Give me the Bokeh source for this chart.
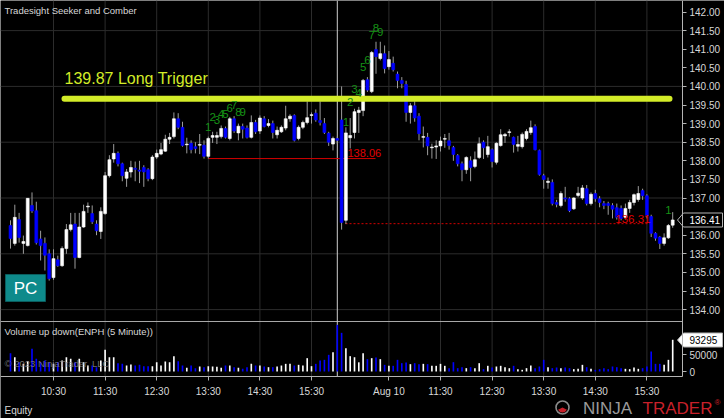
import numpy as np
from bokeh.plotting import figure
from bokeh.models import Range1d, FixedTicker, NumeralTickFormatter, Label, ColumnDataSource
from bokeh.core.properties import value
from bokeh.embed import file_html
from bokeh.resources import INLINE

# ---------------- data ----------------
# Day 1 (Aug 9), 5-minute bars 9:40 .. 16:00
d1_open = [136.26,135.78,136.42,135.78,135.72,136.80,136.66,135.90,135.78,135.50,
           134.86,135.34,135.18,135.64,136.15,136.30,135.40,136.22,136.76,136.58,
           136.30,136.10,136.58,137.60,138.05,138.20,137.92,137.53,137.70,137.80,
           137.75,137.82,137.76,137.52,138.10,138.18,138.26,138.58,138.65,139.13,
           138.90,138.43,138.47,138.38,138.42,138.42,138.12,138.63,138.63,138.65,
           138.87,138.60,139.13,138.75,138.92,138.88,138.63,139.03,138.80,139.13,
           138.95,139.00,138.70,138.78,138.88,139.13,139.22,138.60,138.90,139.03,
           139.22,139.28,139.08,139.00,138.74,138.45,138.60]
d1_high = [136.40,136.82,136.60,135.99,137.00,137.15,136.90,136.12,135.94,135.62,
           135.62,135.45,135.70,136.30,136.60,136.60,136.60,136.82,136.88,136.80,
           136.40,136.75,137.70,138.15,138.45,138.25,137.95,137.78,138.00,137.98,
           138.00,137.88,137.80,138.15,138.30,138.48,138.70,138.75,139.30,139.28,
           139.05,138.62,138.55,138.50,138.72,138.55,138.65,138.78,138.78,138.95,
           138.92,139.18,139.20,139.00,139.00,138.95,139.22,139.10,139.22,139.20,
           139.12,139.08,138.92,138.95,139.48,139.25,139.25,138.95,139.08,139.60,
           139.30,139.38,139.60,139.15,138.78,138.65,138.65]
d1_low = [135.64,135.72,135.80,135.50,135.70,136.60,135.75,135.32,135.05,134.78,
          134.80,135.15,135.15,135.50,136.10,135.10,135.38,136.20,136.60,136.30,
          136.00,135.90,136.55,137.55,137.95,137.85,137.45,137.30,137.55,137.45,
          137.40,137.30,137.45,137.48,138.05,138.15,138.24,138.45,138.60,138.85,
          138.38,138.20,138.20,138.20,138.18,138.06,138.06,138.48,138.45,138.60,
          138.60,138.55,138.75,138.55,138.60,138.60,138.60,138.72,138.72,138.90,
          138.90,138.60,138.60,138.75,138.82,139.05,138.52,138.55,138.85,138.98,
          139.00,139.05,138.95,138.72,138.40,138.28,138.45]
d1_close = [135.91,136.48,135.94,135.83,136.99,136.65,135.80,135.72,135.46,134.83,
            135.37,135.18,135.64,136.15,136.28,135.40,136.22,136.64,136.78,136.36,
            136.12,136.64,137.60,138.03,138.20,137.92,137.60,137.70,137.82,137.77,
            137.72,137.70,137.52,138.10,138.20,138.30,138.58,138.63,139.13,138.90,
            138.41,138.45,138.30,138.33,138.44,138.12,138.60,138.68,138.68,138.87,
            138.63,139.13,138.80,138.93,138.85,138.63,139.03,138.78,139.15,138.92,
            139.00,138.76,138.82,138.90,139.13,139.20,138.55,138.90,139.03,139.16,
            139.24,139.10,139.03,138.76,138.50,138.60,138.55]
d1_volume = [53900,42100,27400,22500,30000,66600,37200,27400,32300,27400,
             22500,27400,32300,42100,37200,27400,37200,27400,17600,17600,
             12700,32300,63700,42100,42100,24500,22500,17600,20600,17600,
             19600,15700,15700,15700,27400,17600,29400,27400,45100,30400,
             17600,10800,17600,9800,14700,12700,15700,14700,13700,10800,
             17600,17600,12700,10800,7800,12700,22500,17600,17600,14700,
             12700,12700,14700,17600,22500,22500,17600,19600,17600,39200,
             15700,22500,32300,34300,49000,56800,137200]

# Day 2 (Aug 10), 5-minute bars 9:35 .. 16:00
d2_open = [139.10,136.40,138.62,138.76,139.30,139.35,140.18,139.86,140.99,140.75,
           140.88,140.53,140.62,140.33,140.16,140.05,139.30,139.48,139.20,138.63,
           138.63,138.35,138.37,138.40,138.58,138.54,138.36,138.14,137.92,137.76,
           138.00,137.85,138.09,138.50,138.17,138.30,137.96,138.41,138.67,138.76,
           138.63,138.39,138.38,138.60,138.76,138.92,138.28,137.60,137.42,137.42,
           136.88,136.80,137.00,136.98,136.71,137.07,137.00,137.25,136.85,137.12,
           136.98,136.85,136.85,136.80,136.74,136.72,136.48,136.72,136.88,136.96,
           137.20,137.06,136.50,136.05,135.95,135.78,135.93,136.27]
d2_high = [140.00,138.90,139.15,139.40,139.45,140.20,140.25,140.95,141.20,141.20,
           141.10,140.95,140.80,140.40,140.25,140.15,139.55,139.60,139.28,138.92,
           138.75,138.46,138.55,138.65,138.72,138.75,138.40,138.18,137.98,138.12,
           138.12,138.25,138.63,138.55,138.67,138.33,138.50,138.85,138.75,138.85,
           138.65,138.67,138.76,138.85,139.08,138.98,138.30,137.65,137.55,137.50,
           136.95,137.18,137.30,137.02,137.02,137.30,137.35,137.35,137.15,137.22,
           137.05,136.92,136.90,136.86,136.85,136.80,136.85,136.95,137.12,137.32,
           137.25,137.10,136.55,136.08,135.98,136.05,136.30,136.62]
d2_low = [136.15,136.30,138.33,138.60,138.75,139.20,139.85,139.82,140.34,140.70,
          140.35,140.45,140.40,139.95,139.95,139.05,139.00,139.05,138.55,138.36,
          138.15,138.06,138.05,138.25,138.35,138.30,138.00,137.85,137.45,137.65,
          137.45,137.80,138.05,138.05,138.09,137.82,137.90,138.38,138.48,138.65,
          138.22,138.25,138.33,138.55,138.70,138.28,137.60,137.25,137.25,136.80,
          136.75,136.75,136.90,136.62,136.68,137.02,136.95,136.80,136.80,136.90,
          136.75,136.70,136.55,136.45,136.42,136.40,136.42,136.60,136.80,136.90,
          136.95,136.45,135.95,135.85,135.63,135.72,135.90,136.20]
d2_close = [136.34,138.75,138.68,139.32,139.36,140.16,139.90,140.91,140.80,140.88,
            140.48,140.72,140.45,140.16,140.08,139.30,139.48,139.15,138.73,138.65,
            138.40,138.37,138.40,138.53,138.60,138.41,138.17,137.92,137.76,138.09,
            137.82,138.03,138.46,138.35,138.38,137.98,138.47,138.70,138.71,138.78,
            138.44,138.44,138.71,138.79,138.89,138.30,137.63,137.50,137.45,136.85,
            136.83,137.12,136.97,136.66,137.00,137.13,137.27,136.85,137.10,136.98,
            136.88,136.80,136.80,136.70,136.48,136.45,136.72,136.88,137.09,137.12,
            137.06,136.53,136.05,135.92,135.78,135.93,136.26,136.41]
d2_volume = [113700,68600,45100,42000,27000,53900,36300,39200,41200,36300,
             19600,16700,16700,34300,24500,26500,21600,24500,21600,22500,
             21600,16700,16700,22500,16700,9800,27400,9800,12700,9800,
             12700,9800,24500,6900,16700,11800,14700,16700,12700,9800,
             16700,6900,4900,9800,17600,9800,14700,34300,12700,9800,
             11800,9800,11800,9800,6900,7800,19600,12700,7800,4900,
             6900,9800,6900,14700,12700,9800,7800,6900,11800,7800,
             9800,14700,58800,22500,22500,19600,34300,93295]

# time axis: bar slot of each tick (day 1 starts at slot 1 = 9:40, day 2 at slot 78 = 9:35)
tick_slots = [11, 23, 35, 47, 59, 71, 89, 101, 113, 125, 137, 149]
tick_labels = ["10:30", "11:30", "12:30", "13:30", "14:30", "15:30",
               "Aug 10", "11:30", "12:30", "13:30", "14:30", "15:30"]
session_break_slot = 77

price_ticks = [134.0, 134.5, 135.0, 135.5, 136.0, 137.0, 137.5, 138.0,
               138.5, 139.0, 139.5, 140.0, 140.5, 141.0, 141.5, 142.0]
price_grid = [134.0, 135.5, 137.0, 138.5, 140.0, 141.5]
last_price = 136.41
last_volume = 93295
volume_ticks = [0, 50000]
volume_tick_labels = ["0", "50000"]

trigger_price = 139.67
trigger_text = "139.87 Long Trigger"
support1_price = 138.06
support1_text = "138.06"
support2_price = 136.31
support2_text = "136.31"

# setup counts (slot, price level, text)
count_slots = [47, 48, 49, 50, 51, 52, 53, 54, 55,
               79, 80, 81, 82, 83, 84, 85, 86, 87, 154]
count_prices = [138.92, 139.19, 139.11, 139.27, 139.27, 139.43, 139.49, 139.30, 139.30,
                139.03, 139.57, 139.92, 139.81, 140.51, 140.72, 141.37, 141.56, 141.45, 136.69]
count_texts = ["1", "2", "3", "4", "5", "6", "7", "8", "9",
               "1", "2", "3", "4", "5", "6", "7", "8", "9", "1"]

# ---------------- geometry (reference picture -> data) ----------------
W, H = 724, 418
BAR0_PX, BAR_STEP_PX = 5.7, 4.3
Y142_PX, PX_PER_DOLLAR = 11.5, 37.2
VOL0_PX, PX_PER_VOL = 371.0, 17.0 / 50000
AXIS_X_PX, AXIS_Y_PX = 682, 376

def rx(px):
    return (px - BAR0_PX) / BAR_STEP_PX

def ry(py):
    return 142 - (py - Y142_PX) / PX_PER_DOLLAR

def rv(py):
    return (VOL0_PX - py) / PX_PER_VOL

def vol_as_price(v):
    return round(ry(VOL0_PX - v * PX_PER_VOL), 4)

opens = np.array(d1_open + d2_open)
highs = np.array(d1_high + d2_high)
lows = np.array(d1_low + d2_low)
closes = np.array(d1_close + d2_close)
vols = np.array(d1_volume + d2_volume)
slots = np.array(list(range(1, 1 + len(d1_open))) + list(range(78, 78 + len(d2_open))))
up = closes >= opens
colors = np.where(up, "#ffffff", "#0000ff")

src = ColumnDataSource(dict(x=slots, open=opens, high=highs, low=lows, close=closes,
                            top=np.maximum(opens, closes), bottom=np.minimum(opens, closes),
                            vol=vols, color=colors))

FONT = "Liberation Sans"
LIGHT = "#d8d8d8"
GRID = "#2c2c2c"
AXIS = "#b4b4b4"
SMALL = "9.5px"

p = figure(width=W, height=H,
           x_range=Range1d(rx(0), rx(W)), y_range=Range1d(ry(H), ry(0)),
           output_backend="svg", toolbar_location=None, y_axis_location="right",
           min_border=0, background_fill_color="black", border_fill_color="black",
           outline_line_color=None)
p.extra_y_ranges = {"vol": Range1d(rv(H), rv(0))}

# axes, pinned at the chart edge so the margin area stays drawable
vol_tick_pos = [vol_as_price(v) for v in volume_ticks]
p.yaxis.ticker = FixedTicker(ticks=price_ticks + vol_tick_pos)
p.yaxis.formatter = NumeralTickFormatter(format="0.00")
p.yaxis.major_label_overrides = dict(zip(vol_tick_pos, volume_tick_labels))
p.yaxis.fixed_location = rx(AXIS_X_PX)
p.yaxis.bounds = (ry(AXIS_Y_PX), ry(0))
p.xaxis.ticker = FixedTicker(ticks=tick_slots)
p.xaxis.major_label_overrides = dict(zip(tick_slots, tick_labels))
p.xaxis.fixed_location = ry(AXIS_Y_PX)
p.xaxis.bounds = (rx(0), rx(AXIS_X_PX))
for ax in (p.xaxis, p.yaxis):
    ax.axis_line_color = AXIS
    ax.major_tick_line_color = AXIS
    ax.major_tick_out = 4
    ax.major_tick_in = 0
    ax.minor_tick_line_color = None
    ax.major_label_text_color = LIGHT
    ax.major_label_text_font = FONT
    ax.major_label_text_font_size = "10px"
p.yaxis.major_label_standoff = 3
p.xaxis.major_label_standoff = 5
p.grid.visible = False

# grid lines limited to the chart panels
p.segment(x0=tick_slots, y0=[ry(AXIS_Y_PX)] * len(tick_slots), x1=tick_slots,
          y1=[ry(0)] * len(tick_slots), line_color=GRID, line_width=1)
p.segment(x0=[rx(0)] * len(price_grid), y0=price_grid, x1=[rx(AXIS_X_PX)] * len(price_grid),
          y1=price_grid, line_color=GRID, line_width=1)
# panel separator and session break
p.segment(x0=[rx(0)], y0=[ry(321)], x1=[rx(AXIS_X_PX)], y1=[ry(321)], line_color="#a8a8a8", line_width=1)
p.segment(x0=[session_break_slot], y0=[ry(AXIS_Y_PX)], x1=[session_break_slot], y1=[ry(0)],
          line_color="#cfcfcf", line_width=1)

# support lines
p.line(x=[47, rx(375)], y=[support1_price] * 2, line_color="#d40000", line_width=1)
p.line(x=[rx(345), rx(650)], y=[support2_price] * 2, line_color="#d40000", line_width=1, line_dash="2 2")

# candles
p.segment(x0="x", y0="low", x1="x", y1="high", source=src, line_color="#9c9c9c", line_width=1)
p.vbar(x="x", width=0.68, top="top", bottom="bottom", fill_color="color", line_color="color",
       line_width=0.6, source=src)

# volume
p.vbar(x="x", width=0.38, top="vol", bottom=0, fill_color="color", line_color=None,
       source=src, y_range_name="vol")

# trigger line
p.line(x=[rx(64), rx(669)], y=[trigger_price] * 2, line_color="#d3ec28", line_width=6, line_cap="round")

# counts
p.text(x=count_slots, y=count_prices, text=count_texts, text_color="#169116",
       text_font=value(FONT), text_font_size="11.5px", text_align="center", text_baseline="middle")

# PC box
p.rect(x=rx(25), y=ry(287.5), width=40 / BAR_STEP_PX, height=27 / PX_PER_DOLLAR,
       fill_color="#0e8a8b", line_color="#0a5d5e", line_width=1)

# value tags on the right axis (last price, last volume)
def tag_shape(yc):
    xs = [rx(677), rx(683), rx(722), rx(722), rx(683)]
    ys = [ry(yc), ry(yc - 7), ry(yc - 7), ry(yc + 7), ry(yc + 7)]
    return xs, ys

t1 = tag_shape(219.5)
t2 = tag_shape(339.5)
p.patches(xs=[t1[0], t2[0]], ys=[t1[1], t2[1]], fill_color=["#000000", "#ffffff"],
          line_color=["#b4b4b4", "#b4b4b4"], line_width=1)
p.text(x=[rx(689)], y=[last_price], text=["%.2f" % last_price], text_color="#ffffff",
       text_font=value(FONT), text_font_size="10px", text_baseline="middle")
p.text(x=[rx(689)], y=[last_volume], text=[str(last_volume)], text_color="#000000",
       text_font=value(FONT), text_font_size="10px", text_baseline="middle", y_range_name="vol")

def lab(px, py, text, size, color, align="left", baseline="middle", **kw):
    p.add_layout(Label(x=rx(px), y=ry(py), text=text, text_font=FONT, text_font_size=size,
                       text_color=color, text_align=align, text_baseline=baseline, **kw))

lab(25, 287.5, "PC", "17px", "#ffffff", align="center")
lab(4, 9.5, "Tradesight Seeker and Comber", SMALL, LIGHT)
lab(64, 77.5, trigger_text, "16px", "#d3ec28")
lab(347, 156, support1_text, "11px", "#e00000", baseline="bottom")
lab(650, 222.5, support2_text, "11.5px", "#e00000", align="right", baseline="bottom")
lab(4, 331, "Volume up down(ENPH (5 Minute))", SMALL, LIGHT)
lab(4, 363, "\u00a9 2023 NinjaTrader, LLC", SMALL, "#8a8a8a", text_alpha=0.8)
lab(4, 410, "Equity", "10px", LIGHT)

# NinjaTrader mark
p.circle(x=[rx(562)], y=[ry(407)], radius=6.5 / BAR_STEP_PX, fill_color=None,
         line_color="#8a8a8a", line_width=1.6)
p.wedge(x=[rx(562)], y=[ry(407)], radius=5 / BAR_STEP_PX, start_angle=3.6, end_angle=5.8,
        fill_color="#c8202a", line_color=None)
lab(607, 407.5, "NINJA", "17px", "#9a9a9a", align="center")
lab(677, 407.5, "TRADER", "17px", "#c8202a", align="center")
lab(717, 402, "\u00ae", "8px", "#c8202a", align="center")

open("out.html", "w").write(file_html(p, INLINE))
